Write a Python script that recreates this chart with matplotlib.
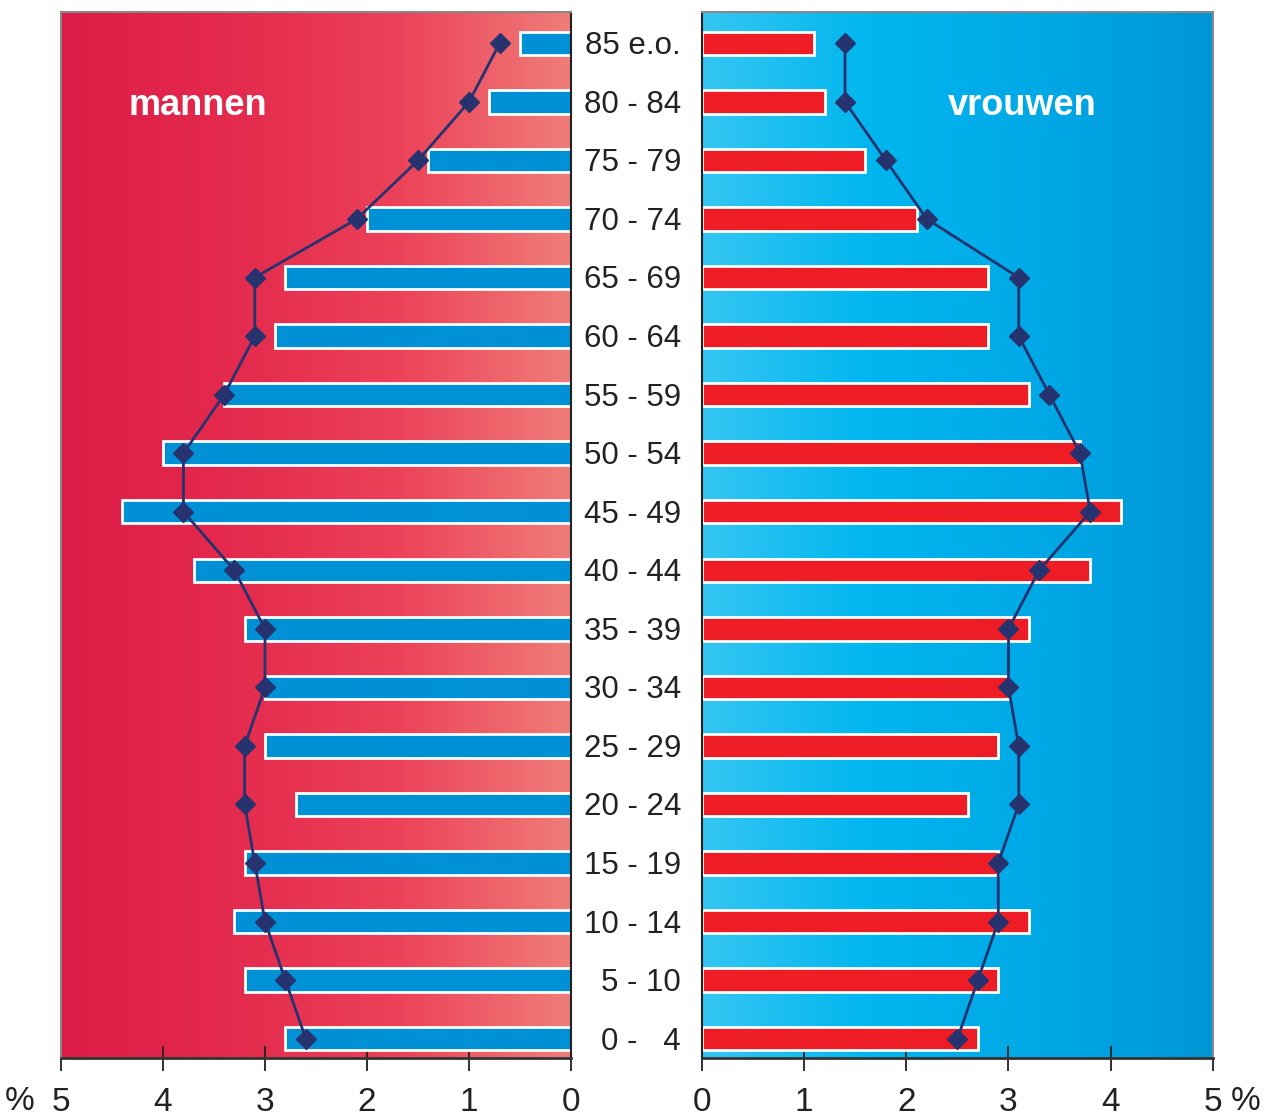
import numpy as np
from matplotlib import pyplot as plt
from matplotlib.colors import LinearSegmentedColormap
from matplotlib.transforms import blended_transform_factory

ages = ['0 -   4', '5 - 10', '10 - 14', '15 - 19', '20 - 24', '25 - 29', '30 - 34', '35 - 39',
        '40 - 44', '45 - 49', '50 - 54', '55 - 59', '60 - 64', '65 - 69', '70 - 74', '75 - 79',
        '80 - 84', '85 e.o.']

men_bars = [2.8, 3.2, 3.3, 3.2, 2.7, 3.0, 3.0, 3.2, 3.7, 4.4, 4.0, 3.4, 2.9, 2.8, 2.0, 1.4, 0.8, 0.5]
men_line = [2.6, 2.8, 3.0, 3.1, 3.2, 3.2, 3.0, 3.0, 3.3, 3.8, 3.8, 3.4, 3.1, 3.1, 2.1, 1.5, 1.0, 0.7]
women_bars = [2.7, 2.9, 3.2, 2.9, 2.6, 2.9, 3.0, 3.2, 3.8, 4.1, 3.7, 3.2, 2.8, 2.8, 2.1, 1.6, 1.2, 1.1]
women_line = [2.5, 2.7, 2.9, 2.9, 3.1, 3.1, 3.0, 3.0, 3.3, 3.8, 3.7, 3.4, 3.1, 3.1, 2.2, 1.8, 1.4, 1.4]

ticks = [0, 1, 2, 3, 4, 5]

plt.rcParams['font.family'] = ['Liberation Sans', 'DejaVu Sans']

fig = plt.figure(figsize=(12.74, 11.17), dpi=100)
ax_m = fig.add_axes([0.0479, 0.0528, 0.4003, 0.9362])
ax_v = fig.add_axes([0.5510, 0.0528, 0.4010, 0.9362])

red_bg = LinearSegmentedColormap.from_list('red_bg', ['#dc1c46', '#e42a4d', '#ec4259', '#f07d79'])
blue_bg = LinearSegmentedColormap.from_list('blue_bg', ['#35c6f2', '#00b6ef', '#00a8e6', '#0096d6'])
grad = np.linspace(0, 1, 256).reshape(1, -1)

y = np.arange(len(ages))
ylim = (-0.33, len(ages) - 1 + 0.53)

for ax, cmap, bars, line, bar_color, xlim in [
    (ax_m, red_bg, men_bars, men_line, '#0090d5', (5, 0)),
    (ax_v, blue_bg, women_bars, women_line, '#ee1c25', (0, 5)),
]:
    ax.imshow(grad, cmap=cmap, aspect='auto', extent=(xlim[0], xlim[1], ylim[0], ylim[1]),
              origin='lower', zorder=0)
    ax.barh(y, bars, height=0.4, color=bar_color, edgecolor='white', linewidth=2, zorder=2)
    ax.plot(line, y, color='#26336f', linewidth=2, marker='D', markersize=10, zorder=3)
    ax.set_xlim(*xlim)
    ax.set_ylim(*ylim)
    ax.set_yticks([])
    ax.set_xticks(ticks)
    ax.tick_params(axis='x', direction='inout', length=18, width=1.3, labelsize=24, pad=12,
                   colors='#222222')
    for s in ax.spines.values():
        s.set_color('#888888')
        s.set_linewidth(1.5)
    ax.spines['bottom'].set_color('#333333')
    ax.spines['bottom'].set_linewidth(2)

ax_m.spines['right'].set_color('#222222')
ax_v.spines['left'].set_color('#222222')

ax_m.text(3.66, 15.94, 'mannen', color='white', fontsize=26, fontweight='bold', ha='center', va='center')
ax_v.text(3.13, 15.94, 'vrouwen', color='white', fontsize=26, fontweight='bold', ha='center', va='center')

trans = blended_transform_factory(ax_v.transAxes, ax_v.transData)
for i, lab in enumerate(ages):
    ax_v.text(-0.041, i - 0.05, lab, transform=trans, ha='right', va='center', fontsize=22.5,
              color='#222222')

fig.text(20 / 1274, 1 - 1101 / 1117, '%', fontsize=24, ha='center', va='center', color='#222222')
fig.text(1246 / 1274, 1 - 1101 / 1117, '%', fontsize=24, ha='center', va='center', color='#222222')

fig.savefig('out.png', dpi=100)
